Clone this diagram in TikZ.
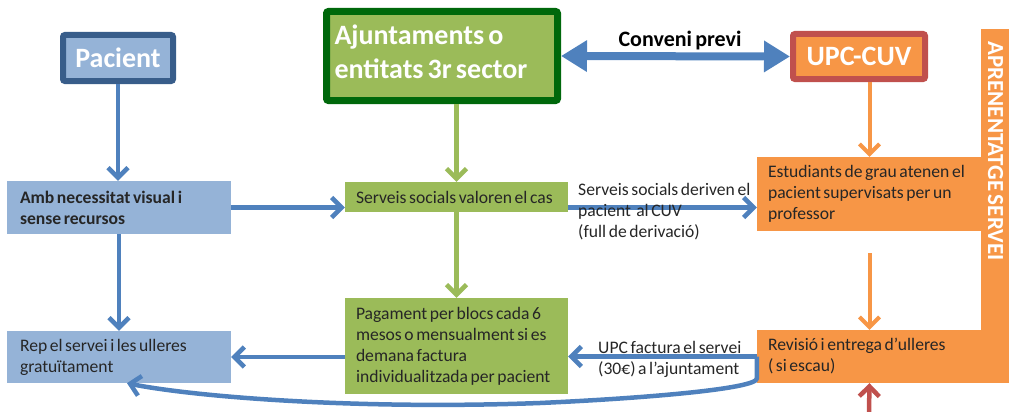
\documentclass[tikz,border=0pt]{standalone}
\usepackage{fontspec}
\setmainfont{Carlito}[WordSpace=0.65]
\usetikzlibrary{arrows.meta,calc,positioning}

\begin{document}
\begin{tikzpicture}[x=1pt,y=-1pt,
  txt/.style={font=\fontsize{17.6}{21}\selectfont,text=black!85},
  box/.style={txt,rectangle,inner xsep=11pt,inner ysep=0pt,align=flush left},
  titlebox/.style={rectangle,rounded corners=2pt,line width=6pt,text=white,font=\bfseries\fontsize{28}{34}\selectfont},
  flowarr/.style={line width=4.5pt,-{Straight Barb[length=10pt,width=20pt]}},
  blueflow/.style={flowarr,draw=pline},
  greenflow/.style={flowarr,draw=gfill},
  orangeflow/.style={flowarr,draw=ofill,line width=4pt},
  redflow/.style={flowarr,draw=odark}]
\definecolor{pblue}{HTML}{95B3D7} \definecolor{pdark}{HTML}{385D8A}
\definecolor{gfill}{HTML}{9BBB59} \definecolor{gdark}{HTML}{00680B}
\definecolor{ofill}{HTML}{F79646} \definecolor{odark}{HTML}{C0504D}
\definecolor{pline}{HTML}{4F81BD}
\useasboundingbox (0,0) rectangle (1009,412);
% top row
\node (pacient) [titlebox,draw=pdark,fill=pblue,minimum width=110pt,minimum height=46pt] at (118,58) {Pacient};
\node (ajunt) [titlebox,draw=gdark,fill=gfill,line width=7pt,inner xsep=8pt,text width=215pt,align=flush left,minimum height=89pt] at (442,56) {Ajuntaments o\\entitats 3r sector\vphantom{p}\vspace{4pt}};
\node (upc) [titlebox,draw=odark,fill=ofill,minimum width=132pt,minimum height=45pt] at (859,56.5) {UPC-CUV};
% boxes
\node (amb) [box,fill=pblue,inner xsep=13pt,text width=198pt,minimum height=53pt,font=\bfseries\fontsize{17.6}{21}\selectfont] at (119,207.5) {Amb necessitat visual i\\sense recursos};
\node (rep) [box,fill=pblue,inner xsep=13pt,text width=198pt,minimum height=52pt] at (119,357) {Rep el servei i les ulleres\\gratuïtament};
\node (serv) [box,fill=gfill,text width=201pt,minimum height=30pt] at (456.5,197) {Serveis socials valoren el cas};
\node (pag) [box,fill=gfill,text width=201pt,minimum height=96pt] at (456.5,346) {Pagament per blocs cada 6\\mesos o mensualment si es\\demana factura\\individualitzada per pacient};
\node (estud) [box,fill=ofill,text width=203pt,minimum height=74pt] at (869.5,194) {Estudiants de grau atenen el\\pacient supervisats per un\\professor};
\node (revis) [box,fill=ofill,text width=203pt,minimum height=53pt] at (869.5,356.5) {Revisió i entrega d’ulleres\\( si escau)};
\node (bar) [fill=ofill,inner sep=0pt,minimum width=28pt,minimum height=354pt] at (995,206) {};
\node (servei) [rotate=-90,text=white,font=\bfseries\fontsize{23}{23}\selectfont] at (995.5,151) {APRENENTATGE SERVEI};
% connectors
\draw [line width=8pt,pline,{Triangle[length=26pt,width=30pt]}-{Triangle[length=26pt,width=30pt]}] (ajunt.east) -- (upc.west);
\node (conv) [font=\bfseries\fontsize{22}{22}\selectfont] at (680,41) {Conveni previ};
\draw [blueflow] (pacient.south) -- (pacient.south |- amb.north);
\draw [blueflow] (amb.south) -- (rep.north);
\draw [blueflow] (amb.east) -- (amb.east -| serv.west);
\draw [greenflow] (serv.north |- ajunt.south) -- (serv.north);
\draw [greenflow] (serv.south) -- (pag.north);
\draw [blueflow] (serv.east |- amb.east) -- (estud.west |- amb.east);
\node (deriv) [txt,anchor=north west,align=flush left,inner sep=0pt] at (578,183) {Serveis socials deriven el\\pacient\ \ al CUV\\(full de derivació)};
\draw [orangeflow] (upc.south -| estud.north) -- (estud.north);
\draw [orangeflow] ([yshift=-22pt]estud.south) -- (revis.north);
\draw [blueflow] (revis.west) -- (revis.west -| pag.east);
\draw [blueflow] (pag.west |- rep.east) -- (rep.east);
\draw [blueflow] (revis.west) -- ++(0,22) .. controls +(0,10) and (650,398) .. (540,403)
  .. controls (350,410) and (190,396) .. ([xshift=8pt]rep.south);
\node (factura) [txt,anchor=west,align=flush left,inner sep=0pt] at (598,359) {UPC factura el servei\\(30€) a l’ajuntament};
\coordinate (bottom) at (869,412);
\draw [redflow] (bottom) -- (revis.south);
\end{tikzpicture}
\end{document}
